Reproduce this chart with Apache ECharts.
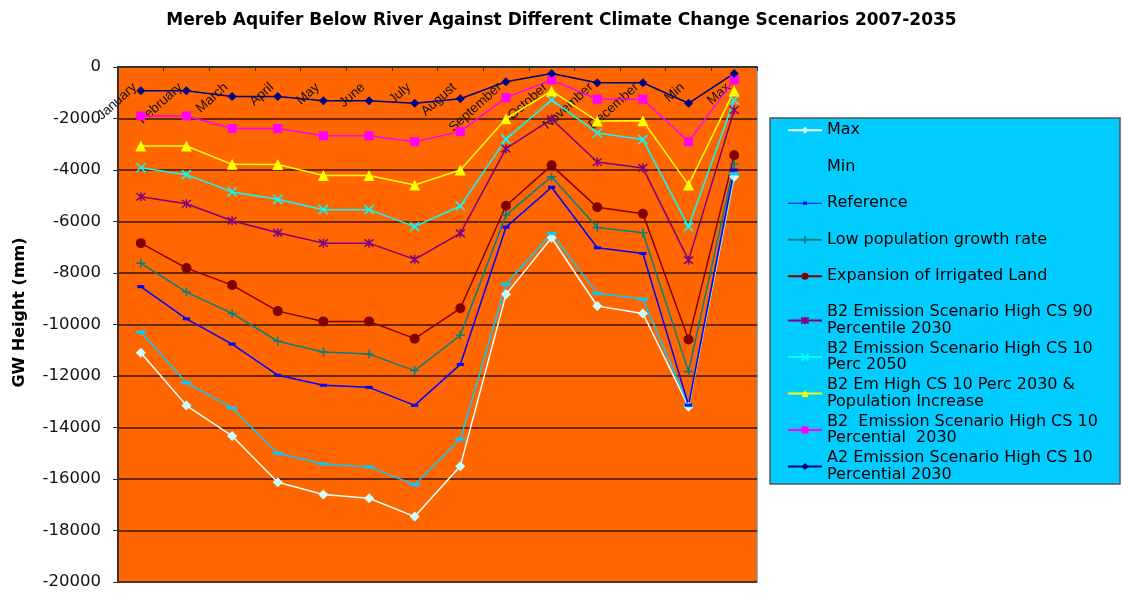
<!DOCTYPE html>
<html>
<head>
<meta charset="utf-8">
<title>Mereb Aquifer Below River</title>
<script src="https://cdn.jsdelivr.net/npm/echarts@6/dist/echarts.min.js"></script>
<style>
    html, body { margin: 0; padding: 0; background: #fff; }
    #chart { width: 1123px; height: 593px; }
</style>
</head>
<body>
<div id="chart"></div>
<script>
// categories along the top axis
var months = ['January', 'February', 'March', 'April', 'May', 'June', 'July', 'August',
    'September', 'October', 'November', 'December', 'Min', 'Max'];

// GW height (mm) per series
var maxVals = [-11100, -13150, -14330, -16130, -16600, -16750, -17460, -15500, -8830, -6630, -9280, -9570, -13190, -4260];
var minVals = [-10300, -12260, -13240, -15000, -15420, -15530, -16220, -14450, -8440, -6460, -8790, -9010, -13150, -4150];
var referenceVals = [-8530, -9780, -10760, -11970, -12360, -12440, -13140, -11550, -6220, -4670, -7020, -7240, -13130, -4000];
var lowPopVals = [-7620, -8740, -9570, -10650, -11070, -11150, -11790, -10420, -5750, -4260, -6230, -6440, -11830, -3780];
var irrigatedVals = [-6840, -7810, -8470, -9480, -9880, -9880, -10550, -9370, -5390, -3820, -5450, -5700, -10580, -3430];
var b2p90Vals = [-5040, -5310, -5970, -6440, -6840, -6840, -7470, -6460, -3170, -2020, -3690, -3920, -7500, -1670];
var b2p10y2050Vals = [-3910, -4180, -4850, -5140, -5540, -5540, -6200, -5400, -2800, -1280, -2560, -2820, -6200, -1280];
var b2PopVals = [-3070, -3070, -3780, -3790, -4210, -4210, -4580, -4000, -2010, -930, -2100, -2090, -4580, -930];
var b2p10y2030Vals = [-1900, -1900, -2390, -2390, -2670, -2670, -2900, -2510, -1190, -500, -1250, -1250, -2900, -500];
var a2Vals = [-920, -920, -1150, -1150, -1310, -1310, -1410, -1230, -570, -250, -610, -610, -1410, -250];

// y axis ticks
var yMin = -20000, yMax = 0, yStep = 2000;

var FONT = '"DejaVu Sans", sans-serif';
var LEGEND_BG = '#00CCFF';

// marker shapes
var PLUS = 'path://M0,5L10,5M5,0L5,10';
var CROSS = 'path://M0,0L10,10M10,0L0,10';
var STAR = 'path://M0,0L10,10M10,0L0,10M5,-1L5,11';
// thin line with a small dash, for the legend of Reference
var DASH_ICON = 'path://M0,0L0,0ZM0,4L34,4L34,5L0,5ZM15,3L19,3L19,6L15,6ZM34,9L34,9Z';

// build one line series
var makeLine = function (name, data, color, symbol, size, stroked, markColor) {
    return {
        name: name,
        type: 'line',
        data: data,
        symbol: symbol,
        symbolSize: size,
        showSymbol: true,
        lineStyle: { color: color, width: 1.5 },
        itemStyle: {
            color: markColor || color,
            borderColor: markColor || color,
            borderWidth: stroked ? 1.5 : 0
        },
        emphasis: { disabled: true }
    };
};

var series = [
    makeLine('Max', maxVals, '#F4FFFF', 'diamond', 10, false, '#CCFFFF'),
    makeLine('Min', minVals, LEGEND_BG, 'rect', [10, 3], false),
    makeLine('Reference', referenceVals, '#0000FF', 'rect', [7, 3], false),
    makeLine('Low population growth rate', lowPopVals, '#008080', PLUS, 9, true),
    makeLine('Expansion of Irrigated Land', irrigatedVals, '#800000', 'circle', 10, false),
    makeLine('B2 Emission Scenario High CS 90\nPercentile 2030', b2p90Vals, '#800080', STAR, 9, true),
    makeLine('B2 Emission Scenario High CS 10\nPerc 2050', b2p10y2050Vals, '#00FFFF', CROSS, 9, true),
    makeLine('B2 Em High CS 10 Perc 2030 &\nPopulation Increase', b2PopVals, '#FFFF00', 'triangle', 11, false),
    makeLine('B2  Emission Scenario High CS 10\nPercential  2030', b2p10y2030Vals, '#FF00FF', 'rect', 9, false),
    makeLine('A2 Emission Scenario High CS 10\nPercential 2030', a2Vals, '#000080', 'diamond', 9, false)
];

var legendText = { fontFamily: FONT, fontSize: 16, color: '#000', lineHeight: 16.5 };

var legendNames = series.map(function (s) {
    return s.name == 'Reference' ? { name: s.name, icon: DASH_ICON } : s.name;
});

var option = {
    animation: false,
    backgroundColor: '#fff',
    title: {
        text: 'Mereb Aquifer Below River Against Different Climate Change Scenarios 2007-2035',
        left: 'center',
        top: 7,
        textStyle: { fontFamily: FONT, fontSize: 17, fontWeight: 'bold', color: '#000' }
    },
    // legend box
    graphic: [{
        type: 'rect',
        shape: { x: 770, y: 118, width: 350, height: 366 },
        style: { fill: LEGEND_BG, stroke: '#555', lineWidth: 1.5 },
        z: 0
    }],
    legend: [{
        // single line entries
        data: legendNames.slice(0, 5),
        orient: 'vertical',
        left: 787,
        top: 122,
        padding: 0,
        itemGap: 20,
        itemWidth: 34,
        itemHeight: 9,
        selectedMode: false,
        textStyle: legendText
    }, {
        // two line entries
        data: legendNames.slice(5),
        orient: 'vertical',
        left: 787,
        top: 304,
        padding: 0,
        itemGap: 3.5,
        itemWidth: 34,
        itemHeight: 9,
        selectedMode: false,
        textStyle: legendText
    }],
    grid: {
        left: 118,
        top: 67,
        right: 366,
        bottom: 11,
        show: true,
        backgroundColor: '#FF6600',
        borderColor: '#8a8a8a',
        borderWidth: 1.5
    },
    xAxis: {
        type: 'category',
        position: 'top',
        data: months,
        boundaryGap: true,
        axisLine: { lineStyle: { color: '#333', width: 2 } },
        axisTick: { show: true, inside: true, length: 4, lineStyle: { color: '#333' } },
        axisLabel: {
            inside: true,
            rotate: 42,
            margin: 13,
            interval: 0,
            padding: [0, 8, 0, 0],
            fontFamily: '"Liberation Sans", Arial, sans-serif',
            fontSize: 13.5,
            color: '#111'
        },
        splitLine: { show: false }
    },
    yAxis: {
        type: 'value',
        min: yMin,
        max: yMax,
        interval: yStep,
        name: 'GW Height (mm)',
        nameLocation: 'middle',
        nameGap: 90,
        nameTextStyle: {
            fontFamily: FONT, fontSize: 16, fontWeight: 'bold', color: '#000',
            padding: [0, 0, 0, 24]
        },
        axisLine: { show: true, lineStyle: { color: '#333', width: 2 } },
        axisTick: { show: true, length: 5, lineStyle: { color: '#333' } },
        axisLabel: {
            margin: 17,
            fontFamily: FONT,
            fontSize: 16.5,
            color: '#111',
            formatter: function (v) { return String(v); }
        },
        splitLine: { show: true, lineStyle: { color: '#3a1500', width: 1.5 } }
    },
    series: series
};

var myChart = echarts.init(document.getElementById('chart'));
myChart.setOption(option);
</script>
</body>
</html>
